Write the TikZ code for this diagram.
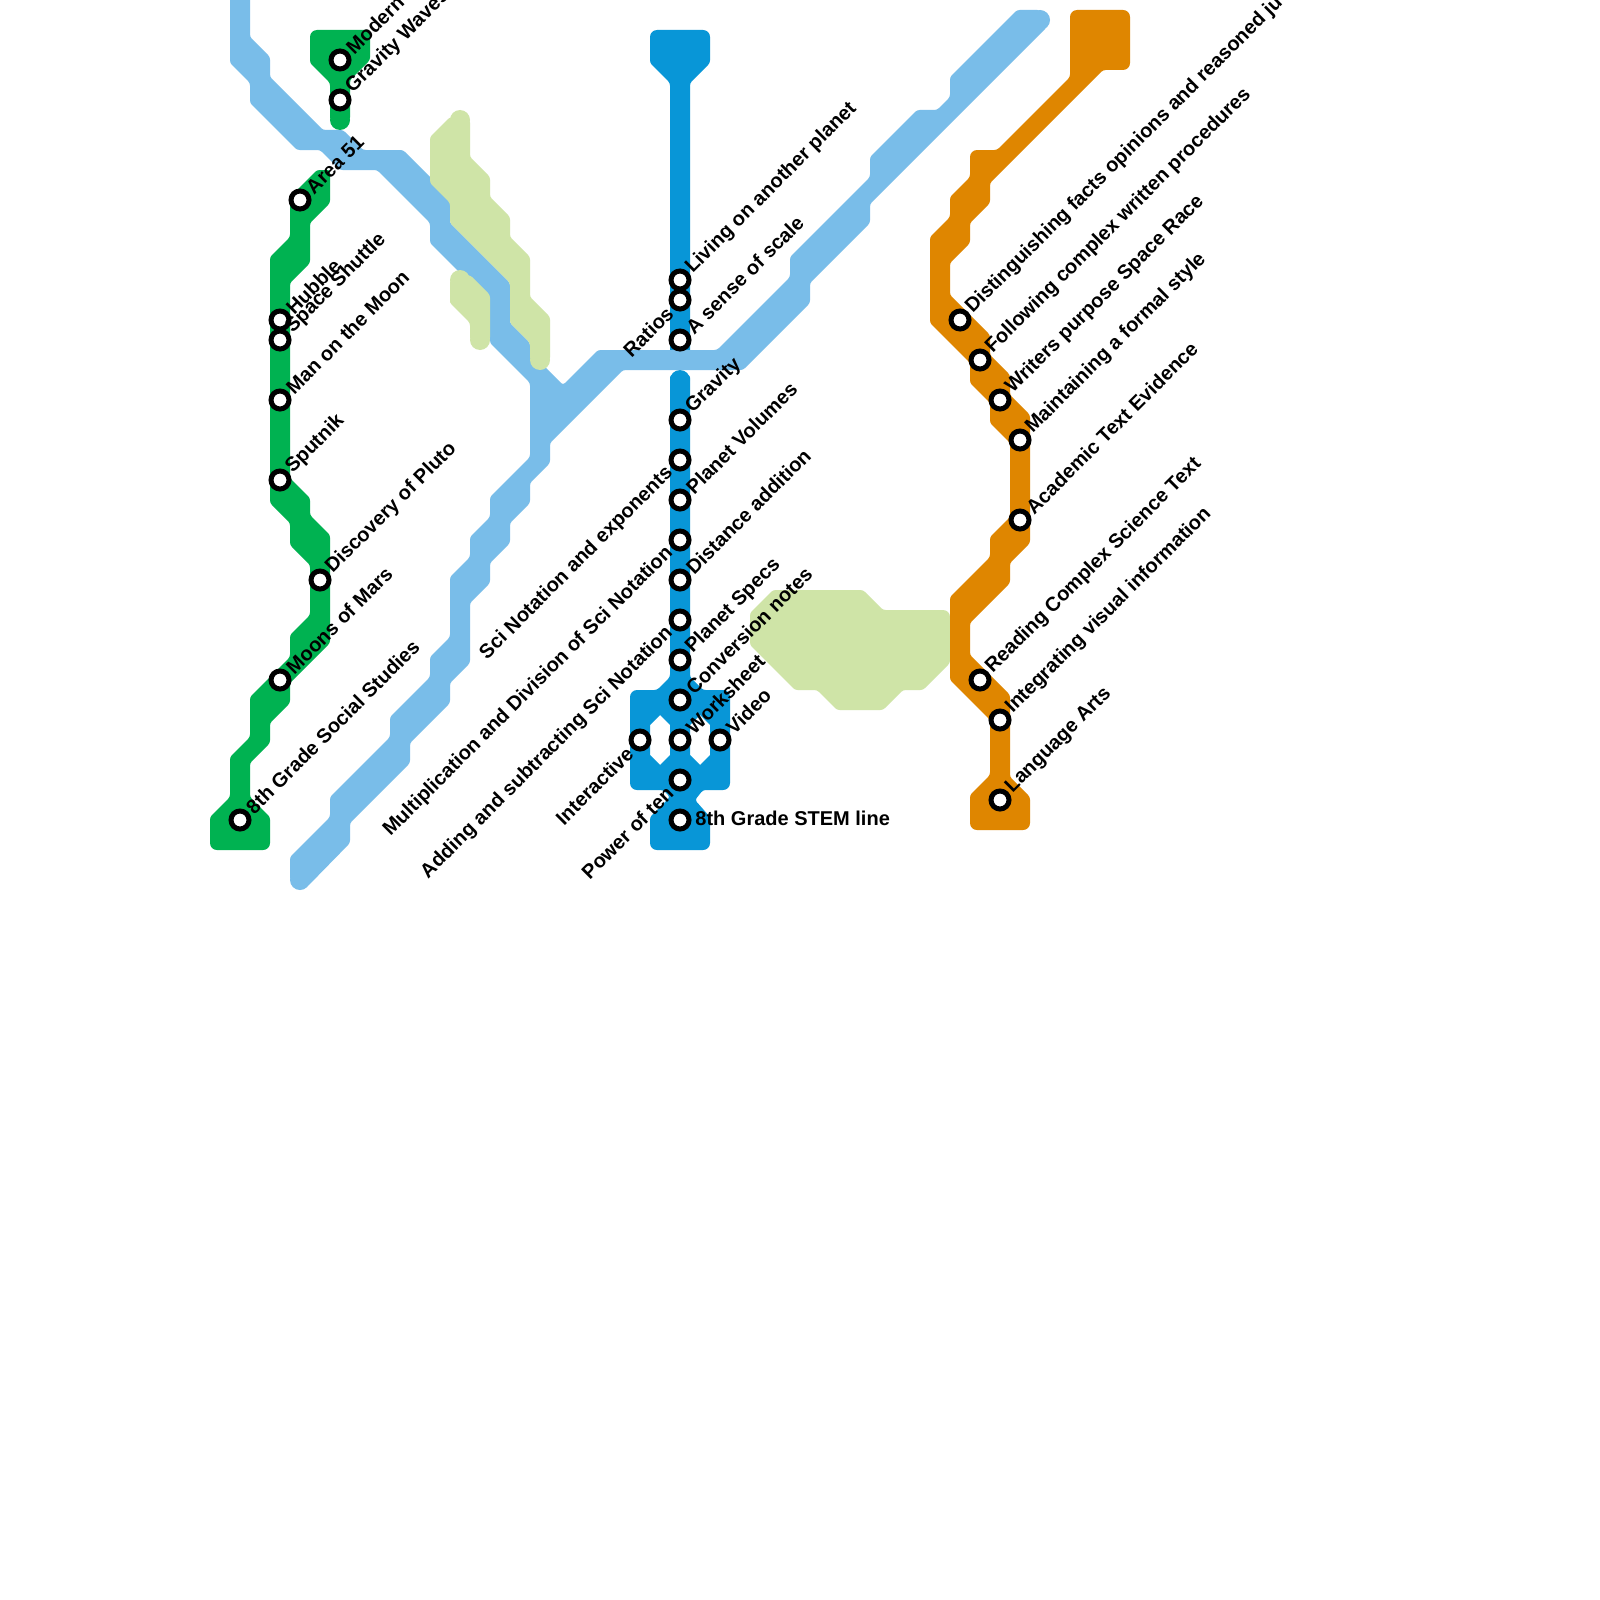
\documentclass[tikz,border=0pt]{standalone}
\usepackage{fontspec}
\setmainfont{Liberation Sans}
\definecolor{lineGreen}{HTML}{00B251}
\definecolor{lineSky}{HTML}{79BDE9}
\definecolor{lineBlue}{HTML}{0896D7}
\definecolor{lineOrange}{HTML}{DF8600}
\definecolor{lineLime}{HTML}{CFE4A7}
\tikzset{
  shapeg/.style={fill=lineGreen,rounded corners=1.3pt},
  shapes/.style={fill=lineSky,rounded corners=1.3pt},
  shapeb/.style={fill=lineBlue,rounded corners=1.3pt,even odd rule},
  shapeo/.style={fill=lineOrange,rounded corners=1.3pt},
  shapel/.style={fill=lineLime,rounded corners=1.3pt},
  stn/.style={circle,draw=black,fill=white,line width=2.5pt,minimum size=9pt,inner sep=0pt},
  lblr/.style={rotate=45,anchor=west,inner sep=0pt,font=\fontsize{10}{11}\selectfont\bfseries},
  lbll/.style={rotate=45,anchor=east,inner sep=0pt,font=\fontsize{10}{11}\selectfont\bfseries},
  lblh/.style={anchor=west,inner sep=0pt,font=\fontsize{10}{11}\selectfont\bfseries},
  big/.style={rounded corners=3.5pt},
  small/.style={rounded corners=1.3pt}
}
\begin{document}
\begin{tikzpicture}[x=0.5pt,y=-0.5pt]
\useasboundingbox (0,0) rectangle (1600,1600);
\clip (0,0) rectangle (1600,1600);
\fill[white] (0,0) rectangle (1600,1600);
% dark blue line
\fill[shapeb] (680,30) [big] -- (710,30) [small] -- (710,63) -- (690,83) -- (690,360) -- (670,360) -- (670,83) -- (650,63) [big] -- (650,30) [small] -- cycle;
\fill[lineBlue] (680,380) circle (10);
\fill[shapeb] (680,375) -- (690,375) -- (690,677) -- (703,690) [big] -- (730,690) -- (730,790) [small] -- (703,790) -- (695,800) -- (710,817) [big] -- (710,850) -- (650,850) [small] -- (650,817) -- (670,797) -- (663,790) [big] -- (630,790) -- (630,690) [small] -- (657,690) -- (670,677) -- (670,375) -- cycle
  [sharp corners] (660,715) -- (670,725) -- (670,755) -- (660,765) -- (650,755) -- (650,725) -- cycle
  (700,715) -- (710,725) -- (710,755) -- (700,765) -- (690,755) -- (690,725) -- cycle;
% sky line
\fill[shapes] (230,-20) -- (250,-20) -- (250,37) -- (270,57) -- (270,77) -- (323,130) -- (343,130) -- (363,150) -- (403,150) -- (450,197) -- (450,223) -- (510,283) -- (510,323) -- (530,343) -- (530,352) -- (563,385) -- (598,350) -- (717,350) -- (790,277) -- (790,257) -- (870,177) -- (870,157) -- (917,110) -- (937,110) -- (950,97) -- (950,77) -- (1017,10) -- (1040,10) -- (1047,27) -- (870,204) -- (870,223) -- (810,283) -- (810,303) -- (743,370) -- (623,370) -- (550,443) -- (550,463) -- (530,483) -- (530,503) -- (510,523) -- (510,543) -- (490,563) -- (490,583) -- (470,603) -- (470,663) -- (450,683) -- (450,703) -- (410,743) -- (410,763) -- (350,823) -- (350,843) -- (307,887) -- (290,880) -- (290,857) -- (330,817) -- (330,797) -- (390,737) -- (390,717) -- (430,677) -- (430,657) -- (450,637) -- (450,577) -- (470,557) -- (470,537) -- (490,517) -- (490,497) -- (530,457) -- (530,383) -- (490,343) -- (490,303) -- (430,243) -- (430,223) -- (377,170) -- (340,170) -- (320,150) -- (297,150) -- (250,103) -- (250,83) -- (230,63) -- cycle;
\fill[lineSky] (1040,20) circle (10);
\fill[lineSky] (300,880) circle (10);
% lime areas
\fill[shapel] (470,140) -- (470,157) -- (490,177) -- (490,197) -- (510,217) -- (510,237) -- (530,257) -- (530,297) -- (550,317) -- (550,360) -- (530,360) -- (530,343) -- (510,323) -- (510,283) -- (450,223) -- (450,203) -- (430,183) -- (430,137) -- (450,117) -- (470,120) -- cycle;
\fill[lineLime] (460,120) circle (10);
\fill[lineLime] (540,360) circle (10);
\fill[shapel] (450,300) -- (450,280) -- (470,275) -- (490,295) -- (490,340) -- (470,340) -- (470,323) -- (450,303) -- cycle;
\fill[lineLime] (460,280) circle (10);
\fill[lineLime] (480,340) circle (10);
\fill[shapel] (820,590) -- (863,590) -- (883,610) [big] -- (950,610) [small] -- (950,663) -- (923,690) -- (903,690) -- (883,710) -- (837,710) -- (817,690) -- (795,690) -- (750,645) -- (750,613) -- (773,590) -- cycle;
% green lines
\fill[shapeg] (340,30) -- (370,30) -- (370,60) -- (350,80) -- (350,120) -- (330,120) -- (330,83) -- (310,63) [big] -- (310,30) [small] -- cycle;
\fill[lineGreen] (340,120) circle (10);
\fill[shapeg] (325,170) -- (330,170) -- (330,203) -- (310,223) -- (310,263) -- (290,283) -- (290,478) -- (310,498) -- (310,515) -- (330,535) -- (330,643) -- (290,683) -- (290,703) -- (270,723) -- (270,743) -- (250,763) -- (250,797) -- (270,817) [big] -- (270,850) -- (210,850) [small] -- (210,817) -- (230,797) -- (230,757) -- (250,737) -- (250,697) -- (290,657) -- (290,635) -- (310,615) -- (310,565) -- (290,545) -- (290,523) -- (270,503) -- (270,257) -- (290,237) -- (290,197) -- (317,170) -- cycle;
% orange line
\fill[shapeo] (1100,10) [big] -- (1130,10) -- (1130,70) [small] -- (1103,70) -- (990,183) -- (990,203) -- (970,223) -- (970,243) -- (950,263) -- (950,295) -- (990,335) -- (990,355) -- (1010,375) -- (1010,395) -- (1030,415) -- (1030,543) -- (1010,563) -- (1010,583) -- (970,623) -- (970,655) -- (1010,695) -- (1010,777) -- (1030,797) [big] -- (1030,830) -- (970,830) [small] -- (970,795) -- (990,775) -- (990,720) -- (950,680) -- (950,597) -- (990,557) -- (990,537) -- (1010,517) -- (1010,443) -- (990,423) -- (990,403) -- (970,383) -- (970,363) -- (930,323) -- (930,237) -- (950,217) -- (950,197) -- (970,177) [big] -- (970,150) [small] -- (997,150) -- (1070,77) [big] -- (1070,10) [small] -- cycle;
% stations
\node[stn] (a1) at (340,60) {};
\node[stn] (a2) at (340,100) {};
\node[stn] (g1) at (300,200) {};
\node[stn] (g2) at (280,320) {};
\node[stn] (g3) at (280,340) {};
\node[stn] (g4) at (280,400) {};
\node[stn] (g5) at (280,480) {};
\node[stn] (g6) at (320,580) {};
\node[stn] (g7) at (280,680) {};
\node[stn] (g8) at (240,820) {};
\node[stn] (b1) at (680,280) {};
\node[stn] (b2) at (680,300) {};
\node[stn] (b3) at (680,340) {};
\node[stn] (b4) at (680,420) {};
\node[stn] (b5) at (680,460) {};
\node[stn] (b6) at (680,500) {};
\node[stn] (b7) at (680,540) {};
\node[stn] (b8) at (680,580) {};
\node[stn] (b9) at (680,620) {};
\node[stn] (b10) at (680,660) {};
\node[stn] (b11) at (680,700) {};
\node[stn] (b12) at (680,740) {};
\node[stn] (b13) at (640,740) {};
\node[stn] (b14) at (720,740) {};
\node[stn] (b15) at (680,780) {};
\node[stn] (b16) at (680,820) {};
\node[stn] (o1) at (960,320) {};
\node[stn] (o2) at (980,360) {};
\node[stn] (o3) at (1000,400) {};
\node[stn] (o4) at (1020,440) {};
\node[stn] (o5) at (1020,520) {};
\node[stn] (o6) at (980,680) {};
\node[stn] (o7) at (1000,720) {};
\node[stn] (o8) at (1000,800) {};
% labels
\def\rl#1#2{\node[lblr] (t#1) at ([shift={(9,-9.5)}]#1) {#2};}
\def\ll#1#2{\node[lbll] (t#1) at ([shift={(-10,10)}]#1) {#2};}
\rl{a1}{Modern}
\rl{a2}{Gravity Waves}
\rl{g1}{Area 51}
\rl{g2}{Hubble}
\rl{g3}{Space Shuttle}
\rl{g4}{Man on the Moon}
\rl{g5}{Sputnik}
\rl{g6}{Discovery of Pluto}
\rl{g7}{Moons of Mars}
\rl{g8}{8th Grade Social Studies}
\rl{b1}{Living on another planet}
\ll{b2}{Ratios}
\rl{b3}{A sense of scale}
\rl{b4}{Gravity}
\ll{b5}{Sci Notation and exponents}
\rl{b6}{Planet Volumes}
\ll{b7}{Multiplication and Division of Sci Notation}
\rl{b8}{Distance addition}
\ll{b9}{Adding and subtracting Sci Notation}
\rl{b10}{Planet Specs}
\rl{b11}{Conversion notes}
\rl{b12}{Worksheet}
\ll{b13}{Interactive}
\rl{b14}{Video}
\ll{b15}{Power of ten}
\node[lblh] (tb16) at (695,818) {8th Grade STEM line};
\rl{o1}{Distinguishing facts opinions and reasoned ju}
\rl{o2}{Following complex written procedures}
\rl{o3}{Writers purpose Space Race}
\rl{o4}{Maintaining a formal style}
\rl{o5}{Academic Text Evidence}
\rl{o6}{Reading Complex Science Text}
\rl{o7}{Integrating visual information}
\rl{o8}{Language Arts}
\end{tikzpicture}
\end{document}
